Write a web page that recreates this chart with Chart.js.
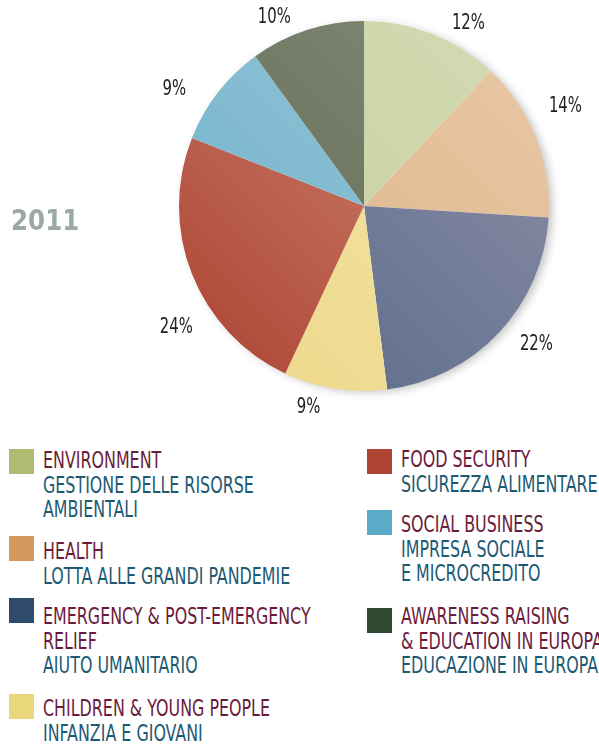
<!DOCTYPE html>
<html>
<head>
<meta charset="utf-8">
<script src="https://cdn.jsdelivr.net/npm/chart.js@4/dist/chart.umd.min.js"></script>
<style>
  html, body { margin: 0; padding: 0; background: #fff; }
  #page { position: relative; width: 599px; height: 744px; overflow: hidden; }
  #pieWrap { position: absolute; left: 0; top: 0; width: 599px; height: 420px; }
  #year { position: absolute; left: 11px; top: 206px; font: bold 29px/1 "DejaVu Sans Condensed", sans-serif;
          color: #9ba8a6; transform: scaleX(0.94); transform-origin: 0 0; }
  .item { position: absolute; }
  .sq { position: absolute; left: 0; top: 0; width: 25px; height: 25px; }
  .txt { position: absolute; white-space: nowrap; font-family: "DejaVu Sans Condensed", sans-serif;
         font-size: 23px; line-height: 24.5px; transform: scaleX(0.768); transform-origin: 0 0; }
  .en { color: #6b1c3c; }
  .it { color: #1d5a72; }
</style>
</head>
<body>
<div id="page">
  <div id="pieWrap"><canvas id="pie"></canvas></div>
  <div id="year">2011</div>
  <div id="legend"></div>
</div>
<script>
// shares per area, clockwise from 12 o'clock
var shares = [12, 14, 22, 9, 24, 9, 10];
var englishLines = [
  ['ENVIRONMENT'],
  ['HEALTH'],
  ['EMERGENCY & POST-EMERGENCY', 'RELIEF'],
  ['CHILDREN & YOUNG PEOPLE'],
  ['FOOD SECURITY'],
  ['SOCIAL BUSINESS'],
  ['AWARENESS RAISING', '& EDUCATION IN EUROPA']
];
var italianLines = [
  ['GESTIONE DELLE RISORSE', 'AMBIENTALI'],
  ['LOTTA ALLE GRANDI PANDEMIE'],
  ['AIUTO UMANITARIO'],
  ['INFANZIA E GIOVANI'],
  ['SICUREZZA ALIMENTARE'],
  ['IMPRESA SOCIALE', 'E MICROCREDITO'],
  ['EDUCAZIONE IN EUROPA']
];

// colours: legend swatch, slice dark end, slice light end
var swatchColors = ['#b0bb72', '#d4975c', '#2f4d6b', '#ecd87c', '#b04434', '#5aaac8', '#2f4a31'];
var sliceDark  = ['#c6cfa0', '#dcb58c', '#5b6c8c', '#eed98d', '#b14c3c', '#74b4cc', '#5d6b54'];
var sliceLight = ['#d2d9b0', '#e6c5a0', '#878aa2', '#f4e5a4', '#cd8572', '#95c4d6', '#818773'];

// layout: legend entry placement, and hand nudges (degrees) for the % labels
var legendSlots = [
  { x: 9,   top: 449, textTop: 448 },
  { x: 9,   top: 536, textTop: 539 },
  { x: 9,   top: 598, textTop: 604 },
  { x: 9,   top: 694, textTop: 696 },
  { x: 367, top: 449, textTop: 447 },
  { x: 367, top: 510, textTop: 512 },
  { x: 367, top: 608, textTop: 604 }
];
var labelNudge = [8, -5, -4.7, 6.5, -11, -6, -7.3];

function buildLegend() {
  var box = document.getElementById('legend');
  shares.forEach(function (v, i) {
    var slot = legendSlots[i];
    var item = document.createElement('div');
    item.className = 'item';
    item.style.left = slot.x + 'px';
    item.style.top = slot.top + 'px';
    var sq = document.createElement('div');
    sq.className = 'sq';
    sq.style.background = swatchColors[i];
    item.appendChild(sq);
    var txt = document.createElement('div');
    txt.className = 'txt';
    txt.style.left = '34px';
    txt.style.top = (slot.textTop - slot.top) + 'px';
    englishLines[i].forEach(function (l) {
      var d = document.createElement('div'); d.className = 'en'; d.textContent = l; txt.appendChild(d);
    });
    italianLines[i].forEach(function (l) {
      var d = document.createElement('div'); d.className = 'it'; d.textContent = l; txt.appendChild(d);
    });
    item.appendChild(txt);
    box.appendChild(item);
  });
}
buildLegend();

function sliceFill(ctx) {
  var chart = ctx.chart, area = chart.chartArea;
  if (!area) return sliceDark[ctx.dataIndex];
  var cx = (area.left + area.right) / 2, cy = (area.top + area.bottom) / 2;
  var r = Math.min(area.right - area.left, area.bottom - area.top) / 2 * 0.72;
  var g = chart.ctx.createLinearGradient(cx - r, cy + r, cx + r, cy - r);
  g.addColorStop(0, sliceDark[ctx.dataIndex]);
  g.addColorStop(1, sliceLight[ctx.dataIndex]);
  return g;
}

var shadowPlugin = {
  id: 'pieShadow',
  beforeDatasetsDraw: function (chart) {
    var arc = chart.getDatasetMeta(0).data[0];
    if (!arc) return;
    var c = chart.ctx;
    c.save();
    c.shadowColor = 'rgba(0,0,0,0.25)';
    c.shadowBlur = 10;
    c.shadowOffsetX = 4;
    c.shadowOffsetY = 2;
    c.fillStyle = '#fff';
    c.beginPath();
    c.arc(arc.x, arc.y, arc.outerRadius - 1, 0, Math.PI * 2);
    c.fill();
    c.restore();
  }
};

// % labels sit on an ellipse around the pie
var labelPlugin = {
  id: 'pctLabels',
  afterDatasetsDraw: function (chart) {
    var c = chart.ctx;
    c.save();
    c.font = '22px "DejaVu Sans Condensed", sans-serif';
    c.fillStyle = '#222';
    c.textAlign = 'center';
    c.textBaseline = 'middle';
    chart.getDatasetMeta(0).data.forEach(function (arc, i) {
      var a = arc.outerRadius + 46, b = arc.outerRadius + 21;
      var phi = (arc.startAngle + arc.endAngle) / 2 + labelNudge[i] * Math.PI / 180;
      var cs = Math.cos(phi), sn = Math.sin(phi);
      var d = 1 / Math.sqrt((cs / a) * (cs / a) + (sn / b) * (sn / b));
      c.save();
      c.translate(arc.x + d * cs, arc.y + d * sn + 1);
      c.scale(0.75, 1);
      c.fillText(shares[i] + '%', 0, 0);
      c.restore();
    });
    c.restore();
  }
};

new Chart(document.getElementById('pie').getContext('2d'), {
  type: 'pie',
  data: {
    labels: englishLines.map(function (l) { return l.join(' '); }),
    datasets: [{
      data: shares,
      backgroundColor: sliceFill,
      borderWidth: 0,
      hoverOffset: 0
    }]
  },
  options: {
    responsive: true,
    maintainAspectRatio: false,
    animation: false,
    layout: { padding: { left: 179, right: 50, top: 21, bottom: 29 } },
    plugins: { legend: { display: false }, tooltip: { enabled: false } }
  },
  plugins: [shadowPlugin, labelPlugin]
});
</script>
</body>
</html>
